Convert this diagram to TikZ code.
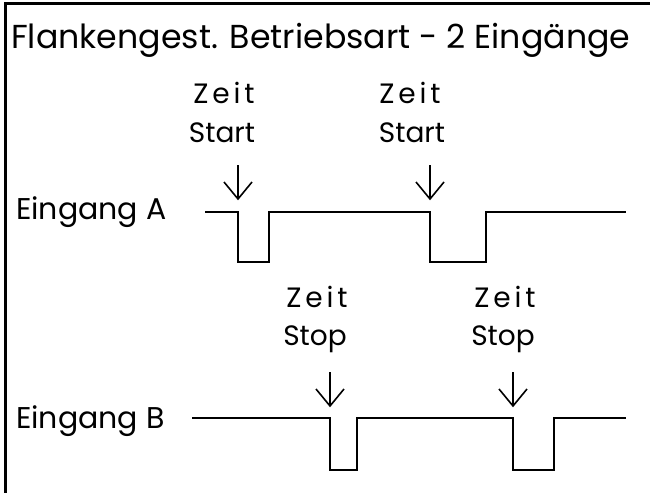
\documentclass[tikz,border=0pt]{standalone}
\usepackage{fontspec}
\setmainfont{Poppins}
\newfontfamily\zeitfont[LetterSpace=14]{Poppins}
\usetikzlibrary{calc}
\begin{document}
\begin{tikzpicture}[x=1pt,y=-1pt,
  lbl/.style={inner sep=0pt,anchor=base west,font=\fontsize{30}{30}\selectfont},
  title/.style={inner sep=0pt,anchor=base west,font=\fontsize{33.2}{33}\selectfont},
  zeit/.style={inner sep=0pt,anchor=base,font=\zeitfont\fontsize{28}{28}\selectfont},
  ss/.style={inner sep=0pt,anchor=base,font=\fontsize{28}{28}\selectfont},
  sig/.style={line width=2.5pt,line join=miter},
  arr/.style={line width=1.6pt},
  frame/.style={line width=3pt}]
\useasboundingbox (0,0) rectangle (650,493);
\draw[frame] (650,3.5) -- (5,3.5) -- (5,493);
\node[title] (t) at (11,48) {Flankengest. Betriebsart - 2 Eingänge};
\node[zeit] (z1) at (224,103) {Zeit};
\node[ss] (s1) at (222,142) {Start};
\node[zeit] (z2) at (410,103) {Zeit};
\node[ss] (s2) at (412,142) {Start};
\node[zeit] (z3) at (317,307) {Zeit};
\node[ss] (s3) at (315,345) {Stop};
\node[zeit] (z4) at (505,307) {Zeit};
\node[ss] (s4) at (503,345) {Stop};
\node[lbl] (ea) at (16,219) {Eingang A};
\node[lbl] (eb) at (16,428) {Eingang B};
% signals
\draw[sig] (205,212) -- (238,212) -- (238,262) -- (269,262) -- (269,212) -- (430,212) -- (430,262) -- (486,262) -- (486,212) -- (626,212);
\draw[sig] (192,418) -- (330,418) -- (330,470) -- (357,470) -- (357,418) -- (513,418) -- (513,470) -- (554,470) -- (554,418) -- (626,418);
% arrows
\foreach \n/\x/\y in {a1/238/165, a2/430/165, b1/330/372, b2/513/372}{
  \coordinate (\n s) at (\x,\y);
  \coordinate (\n e) at (\x,\y+34);
  \draw[arr] (\n s) -- (\n e);
  \draw[arr] ($(\n e)+(-14,-17)$) -- (\n e) -- ($(\n e)+(14,-17)$);
}
\end{tikzpicture}
\end{document}
